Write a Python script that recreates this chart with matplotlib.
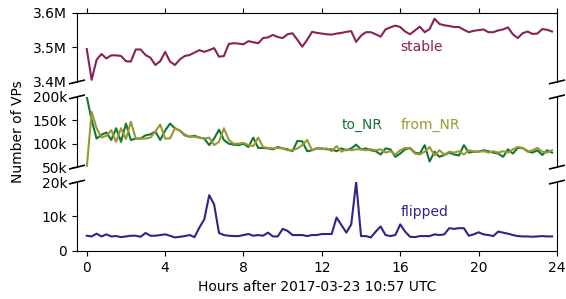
""" Number of VPs per class after 2017-03-23 10:57 UTC (broken y axis) """

import matplotlib
matplotlib.use("Agg")
import matplotlib.pyplot as plt
from matplotlib.ticker import FuncFormatter
import numpy as np

# hours, one sample every 15 minutes
hours = np.arange(96) * 0.25

stable = [3.495, 3.406, 3.464, 3.481, 3.468, 3.477, 3.477, 3.475,
          3.460, 3.459, 3.494, 3.494, 3.478, 3.470, 3.449, 3.460,
          3.487, 3.459, 3.449, 3.465, 3.475, 3.478, 3.485, 3.492,
          3.487, 3.492, 3.498, 3.473, 3.475, 3.510, 3.512, 3.511,
          3.509, 3.518, 3.515, 3.512, 3.527, 3.529, 3.536, 3.530,
          3.527, 3.538, 3.541, 3.522, 3.502, 3.522, 3.545, 3.542,
          3.540, 3.538, 3.537, 3.540, 3.542, 3.545, 3.547, 3.516,
          3.534, 3.544, 3.544, 3.538, 3.531, 3.552, 3.558, 3.563,
          3.559, 3.546, 3.538, 3.549, 3.560, 3.544, 3.553, 3.583,
          3.568, 3.564, 3.562, 3.559, 3.559, 3.551, 3.544, 3.548,
          3.550, 3.552, 3.544, 3.544, 3.549, 3.552, 3.558, 3.538,
          3.527, 3.541, 3.546, 3.539, 3.540, 3.553, 3.551, 3.546]

to_nr = [200, 150, 111, 119, 124, 108, 133, 104,
         143, 108, 111, 111, 118, 120, 126, 108,
         128, 143, 133, 128, 118, 115, 117, 113,
         111, 97, 111, 130, 108, 100, 98, 97,
         100, 93, 113, 91, 91, 90, 88, 93,
         90, 88, 84, 106, 105, 84, 86, 90,
         90, 88, 88, 84, 90, 86, 90, 98,
         88, 90, 86, 84, 77, 90, 88, 72,
         79, 88, 91, 81, 79, 97, 62, 83,
         72, 76, 81, 77, 75, 97, 81, 83,
         83, 86, 84, 81, 79, 72, 88, 79,
         91, 91, 84, 81, 86, 76, 86, 81]

from_nr = [50, 168, 133, 113, 117, 129, 104, 133,
           110, 147, 111, 111, 111, 113, 126, 141,
           111, 111, 133, 128, 120, 115, 115, 113,
           111, 113, 97, 104, 133, 108, 100, 100,
           102, 97, 95, 113, 93, 91, 90, 91,
           90, 86, 86, 90, 97, 108, 86, 91,
           88, 90, 84, 95, 83, 88, 86, 88,
           88, 86, 88, 86, 88, 81, 84, 77,
           86, 91, 90, 79, 77, 83, 93, 75,
           86, 77, 83, 81, 84, 77, 86, 84,
           83, 84, 81, 84, 81, 84, 81, 88,
           93, 91, 83, 86, 91, 83, 81, 86]

flipped = [4.4, 4.2, 5.0, 4.2, 4.8, 4.2, 4.3, 4.0,
           4.2, 4.4, 4.4, 4.1, 5.2, 4.4, 4.4, 4.6,
           4.8, 4.4, 3.9, 4.1, 4.3, 4.6, 4.0, 6.8,
           9.2, 16.2, 13.5, 5.2, 4.6, 4.4, 4.3, 4.3,
           4.6, 4.9, 4.4, 4.6, 4.4, 5.3, 4.2, 4.2,
           6.4, 5.8, 4.6, 4.6, 4.6, 4.3, 4.6, 4.6,
           4.9, 4.9, 4.9, 9.7, 7.5, 5.3, 7.7, 20.0,
           4.3, 4.3, 3.9, 5.6, 7.1, 4.6, 4.3, 4.6,
           7.7, 5.6, 4.1, 4.0, 4.3, 4.3, 4.3, 4.8,
           4.6, 4.8, 6.6, 6.4, 6.6, 6.6, 4.4, 4.8,
           5.4, 4.8, 4.6, 4.3, 5.6, 5.3, 5.0, 4.6,
           4.3, 4.2, 4.2, 4.1, 4.2, 4.3, 4.2, 4.2]

c_stable = "#882255"
c_to = "#117733"
c_from = "#999933"
c_flip = "#332288"

plt.rcParams["font.size"] = 10

fig = plt.figure(figsize=(5.66, 2.99), dpi=100)
left, width = 0.136, 0.848
ax1 = fig.add_axes([left, 0.726, width, 0.231])
ax2 = fig.add_axes([left, 0.441, width, 0.235], sharex=ax1)
ax3 = fig.add_axes([left, 0.161, width, 0.230], sharex=ax1)

ax1.plot(hours, np.array(stable) * 1e6, color=c_stable, lw=1.5)
ax2.plot(hours, np.array(to_nr) * 1e3, color=c_to, lw=1.5)
ax2.plot(hours, np.array(from_nr) * 1e3, color=c_from, lw=1.5)
ax3.plot(hours, np.array(flipped) * 1e3, color=c_flip, lw=1.5)

ax1.set_ylim(3.4e6, 3.6e6)
ax1.set_yticks([3.4e6, 3.5e6, 3.6e6])
ax1.yaxis.set_major_formatter(FuncFormatter(lambda v, p: "%.1fM" % (v / 1e6)))
ax2.set_ylim(50e3, 200e3)
ax2.set_yticks([50e3, 100e3, 150e3, 200e3])
ax2.yaxis.set_major_formatter(FuncFormatter(lambda v, p: "%dk" % round(v / 1e3)))
ax3.set_ylim(0, 20e3)
ax3.set_yticks([0, 10e3, 20e3])
ax3.yaxis.set_major_formatter(
    FuncFormatter(lambda v, p: "0" if v == 0 else "%dk" % round(v / 1e3)))

ax3.set_xlim(-0.5, 24)
ax3.set_xticks(range(0, 25, 4))
ax3.set_xlabel("Hours after 2017-03-23 10:57 UTC")

# spines / ticks of the broken axis
ax1.spines["bottom"].set_visible(False)
ax1.xaxis.tick_top()
ax1.tick_params(labeltop=False)
ax2.spines["top"].set_visible(False)
ax2.spines["bottom"].set_visible(False)
ax2.tick_params(axis="x", bottom=False, labelbottom=False)
ax3.spines["top"].set_visible(False)
ax3.xaxis.tick_bottom()

# diagonal break marks
dx, dy = 0.015, 0.025
kw = dict(color="k", clip_on=False, lw=1.2)
for ax, where in [(ax1, [0]), (ax2, [0, 1]), (ax3, [1])]:
    for yy in where:
        for xx in (0, 1):
            ax.plot((xx - dx, xx + dx), (yy - dy, yy + dy),
                    transform=ax.transAxes, **kw)

ax1.text(16, 3.5e6, "stable", color=c_stable, va="center")
ax2.text(13, 140e3, "to_NR", color=c_to, va="center")
ax2.text(16, 140e3, "from_NR", color=c_from, va="center")
ax3.text(16, 11.2e3, "flipped", color=c_flip, va="center")

fig.text(0.032, 0.56, "Number of VPs", rotation=90, va="center", ha="center")

fig.savefig("out.png", dpi=100)
